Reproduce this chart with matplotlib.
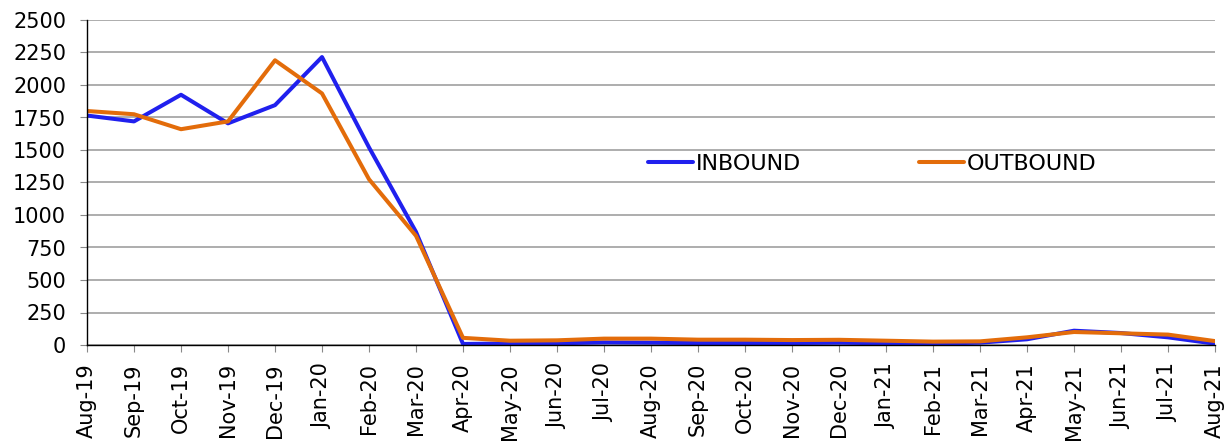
import matplotlib
matplotlib.use("Agg")
import matplotlib.pyplot as plt

months = ["Aug-19", "Sep-19", "Oct-19", "Nov-19", "Dec-19", "Jan-20", "Feb-20",
          "Mar-20", "Apr-20", "May-20", "Jun-20", "Jul-20", "Aug-20", "Sep-20",
          "Oct-20", "Nov-20", "Dec-20", "Jan-21", "Feb-21", "Mar-21", "Apr-21",
          "May-21", "Jun-21", "Jul-21", "Aug-21"]

inbound = [1765, 1720, 1925, 1705, 1845, 2215, 1520, 870, 8, 12, 13, 20, 18, 15,
           15, 15, 18, 13, 10, 18, 44, 110, 92, 59, 10]
outbound = [1800, 1775, 1660, 1720, 2190, 1935, 1275, 840, 55, 33, 36, 49, 49, 41,
            41, 38, 40, 33, 26, 28, 59, 100, 90, 80, 30]

plt.rcParams['font.family'] = ['DejaVu Sans']

fig = plt.figure(figsize=(12.32, 4.44), dpi=100)
ax = fig.add_axes([87 / 1232, 99 / 444, 1128 / 1232, 325 / 444])

x = list(range(len(months)))
ax.plot(x, inbound, color="#2020ee", linewidth=2.9, label="INBOUND", solid_capstyle="round")
ax.plot(x, outbound, color="#e36c0a", linewidth=2.9, label="OUTBOUND", solid_capstyle="round")

ax.set_xlim(0, len(months) - 1)
ax.set_ylim(0, 2500)
ax.set_yticks(range(0, 2501, 250))
ax.set_xticks(x)
ax.set_xticklabels(months, rotation=90)

ax.grid(axis="y", color="#a0a0a0", linewidth=1.2)
ax.set_axisbelow(True)
for s in ["top", "right"]:
    ax.spines[s].set_visible(False)
for s in ["left", "bottom"]:
    ax.spines[s].set_color("black")
    ax.spines[s].set_linewidth(1.0)

ax.tick_params(axis="both", direction="out", length=5, color="#888888",
               labelsize=15, colors="black")
ax.tick_params(axis="y", pad=10)
ax.tick_params(axis="x", pad=8)

ax.legend(loc="center left", bbox_to_anchor=((648 - 87) / 1128, (345 - 164) / 325),
          ncol=2, frameon=False, fontsize=16, handlelength=2.03, handletextpad=0.12,
          columnspacing=5.3, borderaxespad=0, borderpad=0)

fig.savefig("out.png", dpi=100)
